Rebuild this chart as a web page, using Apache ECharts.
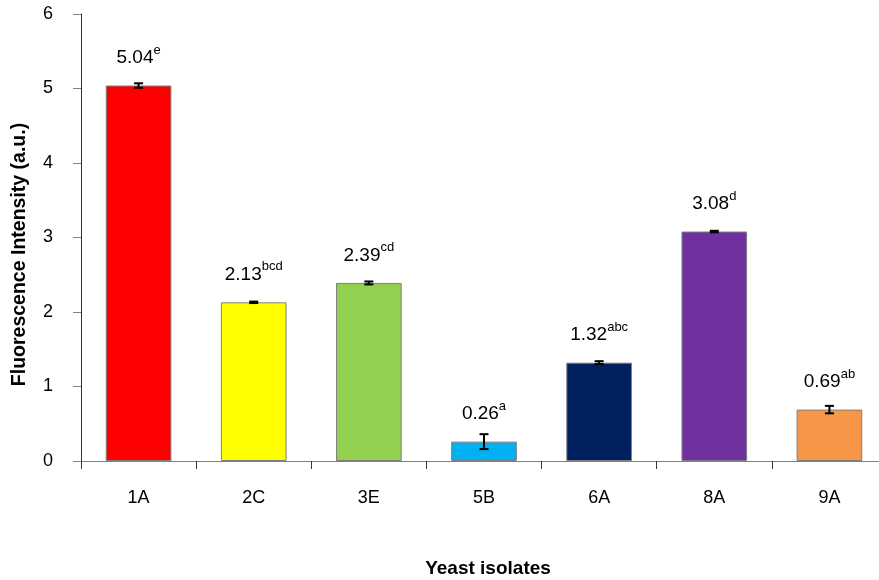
<!DOCTYPE html>
<html>
<head>
<meta charset="utf-8">
<script src="https://cdn.jsdelivr.net/npm/echarts@6/dist/echarts.min.js"></script>
<style>
  html, body { margin: 0; padding: 0; background: #fff; overflow: hidden; }
  #chart { width: 879px; height: 580px; }
</style>
</head>
<body>
<div id="chart"></div>
<script>
// Yeast isolates and their mean fluorescence intensity
const categories = ['1A', '2C', '3E', '5B', '6A', '8A', '9A'];
const values = [5.04, 2.13, 2.39, 0.26, 1.32, 3.08, 0.69];
const errors = [0.03, 0.01, 0.02, 0.10, 0.02, 0.01, 0.05];
const letters = ['e', 'bcd', 'cd', 'a', 'abc', 'd', 'ab'];
const colors = ['#FF0000', '#FFFF00', '#92D050', '#00B0F0', '#002060', '#7030A0', '#F79646'];
const yTicks = [0, 1, 2, 3, 4, 5, 6];

const FONT = '"Liberation Sans", Arial, sans-serif';

const chart = echarts.init(document.getElementById('chart'), null, { renderer: 'canvas' });

const barData = values.map((v, i) => ({
  value: v,
  itemStyle: { color: colors[i] },
  label: {
    formatter: '{v|' + v.toFixed(2) + '}{s|' + letters[i] + '}'
  }
}));

const errData = values.map((v, i) => [i, v - errors[i], v + errors[i]]);

chart.setOption({
  animation: false,
  grid: {
    left: 81, top: 14, right: -8, bottom: 119,
    containLabel: false,
    outerBoundsMode: 'none'
  },
  xAxis: {
    type: 'category',
    data: categories,
    name: 'Yeast isolates',
    nameLocation: 'middle',
    nameGap: 98,
    nameTextStyle: { fontFamily: FONT, fontSize: 19, fontWeight: 'bold', color: '#000', padding: [0, 0, 0, 8] },
    axisLine: { show: true, lineStyle: { color: '#808080', width: 1 } },
    axisTick: { show: true, inside: false, length: 8, alignWithLabel: false, lineStyle: { color: '#333' } },
    axisLabel: { fontFamily: FONT, fontSize: 18, color: '#000', margin: 28 }
  },
  yAxis: {
    type: 'value',
    min: yTicks[0],
    max: yTicks[yTicks.length - 1],
    interval: 1,
    name: 'Fluorescence Intensity (a.u.)',
    nameLocation: 'middle',
    nameGap: 51,
    nameRotate: 90,
    nameTextStyle: { fontFamily: FONT, fontSize: 19.5, fontWeight: 'bold', color: '#000', padding: [0, 34, 0, 0] },
    axisLine: { show: true, lineStyle: { color: '#333', width: 1 } },
    axisTick: { show: true, inside: false, length: 8, lineStyle: { color: '#808080' } },
    splitLine: { show: false },
    axisLabel: { fontFamily: FONT, fontSize: 18, color: '#000', margin: 28 }
  },
  series: [
    {
      type: 'bar',
      data: barData,
      barWidth: '57%',
      itemStyle: { borderColor: '#7f7f7f', borderWidth: 1 },
      label: {
        show: true,
        position: 'top',
        distance: 18,
        rich: {
          v: { fontFamily: FONT, fontSize: 19, color: '#000', lineHeight: 24, verticalAlign: 'bottom' },
          s: { fontFamily: FONT, fontSize: 13, color: '#000', lineHeight: 24, verticalAlign: 'top', padding: [0, 0, 11, 0] }
        }
      },
      z: 2
    },
    {
      type: 'custom',
      data: errData,
      z: 5,
      renderItem: function (params, api) {
        const x = api.value(0);
        const lo = api.coord([x, api.value(1)]);
        const hi = api.coord([x, api.value(2)]);
        const cap = 4.5;
        const style = { stroke: '#000', lineWidth: 2 };
        return {
          type: 'group',
          children: [
            { type: 'line', shape: { x1: lo[0], y1: lo[1], x2: hi[0], y2: hi[1] }, style: style },
            { type: 'line', shape: { x1: lo[0] - cap, y1: lo[1], x2: lo[0] + cap, y2: lo[1] }, style: style },
            { type: 'line', shape: { x1: hi[0] - cap, y1: hi[1], x2: hi[0] + cap, y2: hi[1] }, style: style }
          ]
        };
      }
    }
  ]
});
</script>
</body>
</html>
